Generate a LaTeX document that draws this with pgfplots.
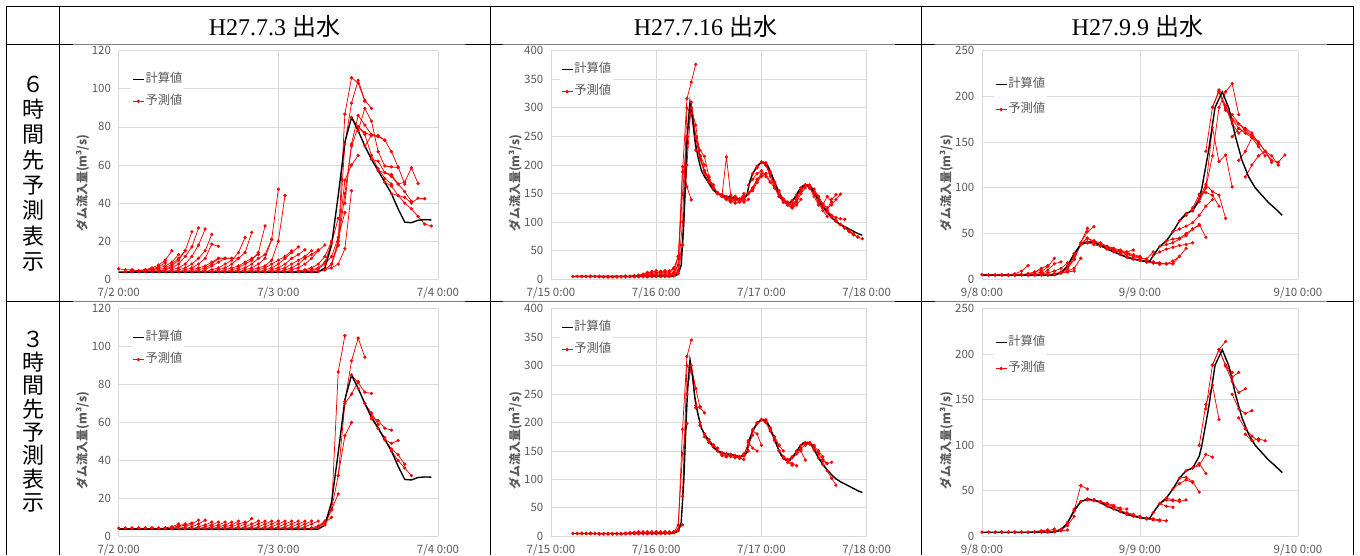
\documentclass[border=0pt]{standalone}
\usepackage{fontspec}
\setmainfont{Liberation Serif}
\newfontfamily\jp{Noto Sans CJK JP}
\usepackage{pgfplots}
\pgfplotsset{compat=1.18}
\definecolor{gridc}{HTML}{D9D9D9}
\definecolor{tickc}{HTML}{595959}
\definecolor{fred}{HTML}{FF0000}
\definecolor{tline}{HTML}{7F7F7F}
\pgfplotsset{
 fcs/.style={color=fred, line width=0.75pt, mark=*, mark size=1.25pt},
 calc/.style={color=black, line width=1.4pt, mark=none},
 panel/.style={
  scale only axis, anchor=south west,
  axis line style={draw=none},
  major tick length=0pt,
  tick style={draw=none},
  xmajorgrids, ymajorgrids,
  grid style={draw=gridc, line width=0.75pt},
  ymin=0, xmin=0,
  tick label style={font=\jp\fontsize{11.5}{13}\selectfont, text=tickc},
  /pgf/number format/assume math mode=true,
  yticklabel style={anchor=east, inner sep=0pt, xshift=-7.5pt},
  xticklabel style={anchor=north, inner sep=0pt, yshift=-7.5pt},
  legend cell align=left,
  legend style={draw=none, fill=white, anchor=north west, inner sep=1pt,
    font=\jp\fontsize{12.3}{14}\selectfont, text=tickc,
    nodes={inner sep=1pt, text height=9pt, text depth=2.5pt}, row sep=8.5pt},
  legend image code/.code={\draw[mark repeat=2,mark phase=2,##1] plot coordinates {(0pt,0pt) (5.5pt,0pt) (11pt,0pt)};},
  ylabel={ダム流入量(m³/s)},
  every axis y label/.style={at={(axis description cs:-0.113,0.42)}, rotate=90, anchor=center, font=\jp\bfseries\fontsize{12}{14}\selectfont, text=tickc},
 },
 pA/.style={xmax=48, xtick={0,24,48}, xticklabels={7/2 0:00,7/3 0:00,7/4 0:00}, ymax=120, ytick={0,20,...,120}},
 pB/.style={xmax=72, xtick={0,24,48,72}, xticklabels={7/15 0:00,7/16 0:00,7/17 0:00,7/18 0:00}, ymax=400, ytick={0,50,...,400}},
 pC/.style={xmax=48, xtick={0,24,48}, xticklabels={9/8 0:00,9/9 0:00,9/10 0:00}, ymax=250, ytick={0,50,...,250}},
}
\newcommand\fc[2]{\addplot[fcs,forget plot] table[x expr=\coordindex+#1,y index=0,header=false,row sep=\\]{#2};}
\newcommand\calcA{\addplot[calc] coordinates {(0,3.8)(30,3.8)(31,6)(32,18)(33,44)(34,72)(35,85)(36,78)(37,70)(38,63)(39,57)(40,51)(41,45)(42,37)(43,30)(44,29.7)(45,31)(46,31.3)(47,31.2)};}
\newcommand\calcB{\addplot[calc] coordinates {(5.5,5)(28,5)(29,9)(29.7,25)(30.3,100)(30.8,200)(31.2,265)(31.7,310)(32.3,280)(32.8,245)(33.5,215)(34.3,190)(35,180)(36,168)(37,156)(38,150)(39,147)(40,145)(41,144)(42,142)(43,140)(44,141)(44.7,148)(45.3,170)(46,185)(47,198)(48,205)(49,204)(49.7,195)(50.5,180)(51.5,160)(52.5,142)(53.5,134)(54.5,134)(55.5,142)(56.5,155)(57.5,164)(58.5,165)(59.3,162)(60,152)(61,138)(62,126)(63,117)(64,108)(65,101)(66,96)(67,92)(68,88)(69,84)(70,80)(71,77)};}
\newcommand\calcC{\addplot[calc] coordinates {(0,4.4)(11,4.4)(12,7)(13,15)(14,28)(15,38)(16,41)(17,40)(18,37)(19,33)(20,30)(21,27)(22,24)(23,22)(24,20.5)(25,19.5)(25.5,20)(26,26)(27,36)(28,42)(29,52)(30,64)(31,72)(32,75)(33,88)(33.4,100)(34.4,140)(35.4,188)(36.5,205)(37.5,187)(38.5,156)(39.5,130)(40.5,112)(41.5,100)(42.5,92)(43.5,84)(44.6,77)(45.6,70)};}
\begin{document}
\begin{tikzpicture}
\useasboundingbox (0pt,0pt) rectangle (1360pt,555pt);
\clip (0pt,0pt) rectangle (1360pt,555pt);
% table
\draw[line width=1.4pt] (6.7pt,0pt) -- (6.7pt,548.3pt) -- (1353.3pt,548.3pt) -- (1353.3pt,0pt);
\draw[line width=1.6pt] (59.3pt,0pt) -- (59.3pt,548.3pt);
\draw[line width=1.4pt] (490.7pt,0pt) -- (490.7pt,548.3pt);
\draw[line width=1.2pt] (921.7pt,0pt) -- (921.7pt,548.3pt);
\foreach \yy in {510.7,253.3}{
 \draw[line width=1.4pt] (6.7pt,\yy pt) -- (73pt,\yy pt);
 \draw[line width=1.4pt] (465pt,\yy pt) -- (503pt,\yy pt);
 \draw[line width=1.4pt] (895pt,\yy pt) -- (935pt,\yy pt);
 \draw[line width=1.4pt] (1327pt,\yy pt) -- (1353.3pt,\yy pt);
 \draw[line width=0.7pt, tline] (73pt,\yy pt) -- (465pt,\yy pt);
 \draw[line width=0.7pt, tline] (503pt,\yy pt) -- (895pt,\yy pt);
 \draw[line width=0.7pt, tline] (935pt,\yy pt) -- (1327pt,\yy pt);
}
\node[font=\fontsize{24}{24}\selectfont, inner sep=0pt] at (274.5pt,529pt) {H27.7.3 {\jp 出水}};
\node[font=\fontsize{24}{24}\selectfont, inner sep=0pt] at (705.5pt,529pt) {H27.7.16 {\jp 出水}};
\node[font=\fontsize{24}{24}\selectfont, inner sep=0pt] at (1137.5pt,529pt) {H27.9.9 {\jp 出水}};
\node[font=\jp\fontsize{22}{25.3}\selectfont, align=center, inner sep=0pt] at (33pt,381.5pt) {６\\時\\間\\先\\予\\測\\表\\示};
\node[font=\jp\fontsize{22}{23.3}\selectfont, align=center, inner sep=0pt] at (33pt,133.5pt) {３\\時\\間\\先\\予\\測\\表\\示};

% ---------- P1 ----------
\begin{axis}[panel, pA, at={(118.7pt,275.7pt)}, width=319.3pt, height=228.6pt,
  legend style={at={(axis description cs:0.0385,0.91)}}]
\fc{0}{5.5\\5\\5\\4.5\\5\\5\\5.5\\}
\fc{1}{4\\4.5\\4.5\\5\\5.5\\6.5\\8.7\\}
\fc{2}{4\\4.5\\5\\6\\7.5\\10\\15\\}
\fc{3}{4\\4.5\\5\\6\\7\\9\\13\\}
\fc{4}{4\\4.5\\5\\6\\8\\11\\15\\}
\fc{5}{4\\4.5\\5\\7\\10\\15\\25\\}
\fc{6}{4\\5\\6\\8\\12\\17\\27\\}
\fc{7}{4\\5\\6\\8\\12\\18\\26.4\\}
\fc{8}{4\\5\\6\\8\\11\\15\\23.6\\}
\fc{9}{4\\5\\6\\8\\11\\18.5\\17.3\\}
\fc{10}{4\\5\\6\\7\\9\\11\\11\\}
\fc{11}{4\\5\\6\\8\\11\\11\\11\\}
\fc{12}{4\\5\\7\\9\\11\\11\\11\\}
\fc{13}{4\\5\\6\\8\\10\\14\\22\\}
\fc{14}{4\\5\\6\\8\\11\\14\\24.6\\}
\fc{15}{4\\5\\6\\7\\9\\11\\13\\}
\fc{16}{4\\5\\6\\8\\10\\14\\28\\}
\fc{17}{4\\5\\6\\8\\11\\13\\21\\}
\fc{18}{4\\5\\6\\8\\11\\21\\47.3\\}
\fc{19}{4\\5\\6\\7\\10\\20\\44\\}
\fc{20}{4\\5\\6\\8\\10\\12\\15\\}
\fc{21}{4\\5\\6\\8\\11\\14\\17\\}
\fc{22}{4\\5\\6\\8\\11\\13\\15.5\\}
\fc{23}{4\\5\\6\\8\\10\\12\\15\\}
\fc{24}{4\\5\\6\\8\\11\\13\\15.5\\}
\fc{25}{4\\5\\6\\8\\11\\15\\18\\}
\fc{26}{4\\4.5\\5\\6\\8\\12\\20\\}
\fc{27}{4\\4.5\\5\\6\\9\\19\\32\\}
\fc{28}{4\\4.5\\5.5\\8\\12\\22\\35\\}
\fc{29}{4\\4.5\\5\\6\\8\\16\\46.5\\}
\fc{30}{4\\5\\8\\20\\52\\60\\65\\}
\fc{31}{5\\8\\20\\86.7\\105.8\\103\\93.5\\}
\fc{32}{8\\18\\71\\92.5\\104.5\\94\\89.7\\}
\fc{33}{18\\45\\70\\80\\77\\75.5\\75\\}
\fc{34}{40\\71\\86\\81\\76\\75.5\\73\\}
\fc{35}{85\\80\\76\\65\\58\\53\\50\\}
\fc{36}{78\\89.7\\83\\67\\59.5\\59\\58.6\\}
\fc{37}{70\\75.5\\75\\73\\67\\59\\50\\}
\fc{38}{63\\62\\56\\54\\50\\46\\41\\}
\fc{39}{57\\56\\55\\50\\51\\58.5\\50.3\\}
\fc{40}{51\\49\\44\\43\\40\\42.6\\42.3\\}
\fc{41}{45\\44\\40\\37\\33\\29\\28\\}
\calcA
\addlegendentry{計算値}
\addlegendimage{fcs}
\addlegendentry{予測値}
\end{axis}

% ---------- P2 ----------
\begin{axis}[panel, pB, at={(551pt,275.7pt)}, width=315.7pt, height=228.6pt,
  legend style={at={(axis description cs:0.0276,0.952)}}]
\fc{5}{5\\5\\5\\5\\5\\5\\5\\}
\fc{7}{5\\5\\5\\5\\5\\4.5\\4.5\\}
\fc{9}{5\\5\\4.5\\4.5\\4.5\\4.5\\4.5\\}
\fc{11}{4.5\\4.5\\4.5\\4.5\\4.5\\5\\5\\}
\fc{13}{4.5\\4.5\\4.5\\5\\5\\5\\6\\}
\fc{15}{4.5\\4.5\\5\\5\\6\\7\\8\\}
\fc{16}{4.5\\5\\5\\6\\7\\9\\12\\}
\fc{17}{4.5\\5\\5\\6\\8\\10\\14\\}
\fc{18}{4.5\\5\\6\\8\\10\\12\\15\\}
\fc{19}{4.5\\5\\6\\8\\10\\12\\14\\}
\fc{20}{4.5\\5\\6\\8\\10\\13\\15\\}
\fc{21}{4.5\\5\\6\\8\\11\\13\\15\\}
\fc{22}{4.5\\5\\6\\8\\10\\14\\20\\}
\fc{23}{5\\5\\6\\8\\11\\19\\40\\}
\fc{24}{5\\5\\6\\8\\12\\25\\60\\}
\fc{25}{5\\5\\7\\12\\40\\150\\250\\}
\fc{26}{5\\6\\9\\25\\197\\162\\139\\}
\fc{27}{5\\8\\15\\188\\316\\345\\376\\}
\fc{28}{6\\15\\100\\300\\290\\250\\215\\}
\fc{29}{10\\60\\250\\300\\226\\217\\200\\}
\fc{30}{60\\200\\310\\250\\226\\215\\180\\}
\fc{31}{250\\300\\250\\210\\190\\175\\165\\}
\fc{32}{300\\270\\215\\185\\170\\160\\150\\}
\fc{33}{250\\215\\190\\175\\160\\150\\145\\}
\fc{34}{210\\190\\175\\160\\150\\148\\140\\}
\fc{35}{190\\178\\160\\150\\147\\214\\147\\}
\fc{36}{172\\165\\150\\145\\140\\135\\140\\}
\fc{37}{160\\150\\145\\140\\138\\133\\136\\}
\fc{38}{152\\148\\140\\140\\145\\140\\150\\}
\fc{39}{147\\143\\140\\145\\140\\135\\140\\}
\fc{40}{145\\142\\138\\140\\145\\150\\160\\}
\fc{41}{144\\140\\135\\140\\150\\155\\170\\}
\fc{42}{142\\140\\140\\150\\160\\175\\185\\}
\fc{43}{140\\143\\150\\160\\170\\180\\185\\}
\fc{44}{141\\150\\160\\175\\180\\185\\170\\}
\fc{45}{165\\175\\185\\190\\180\\170\\160\\}
\fc{46}{185\\195\\205\\200\\185\\165\\150\\}
\fc{47}{198\\205\\200\\180\\160\\145\\135\\}
\fc{48}{205\\200\\185\\165\\145\\135\\130\\}
\fc{49}{204\\185\\170\\150\\140\\135\\128\\}
\fc{50}{188\\170\\155\\140\\130\\125\\135\\}
\fc{51}{168\\150\\140\\130\\125\\130\\140\\}
\fc{52}{150\\140\\135\\130\\135\\150\\160\\}
\fc{53}{137\\133\\130\\140\\155\\165\\165\\}
\fc{54}{134\\135\\145\\155\\165\\160\\150\\}
\fc{55}{138\\145\\160\\165\\160\\145\\130\\}
\fc{56}{148\\155\\165\\160\\150\\140\\125\\}
\fc{57}{160\\165\\160\\150\\135\\120\\110\\}
\fc{58}{165\\160\\150\\140\\130\\145\\135\\}
\fc{59}{163\\158\\145\\130\\120\\140\\148\\}
\fc{60}{152\\145\\132\\125\\130\\140\\149\\}
\fc{61}{138\\130\\120\\112\\108\\106\\105\\}
\fc{62}{126\\118\\110\\102\\96\\90\\86\\}
\fc{63}{117\\110\\102\\96\\90\\84\\80\\}
\fc{64}{108\\102\\96\\90\\84\\78\\74\\}
\fc{65}{101\\96\\90\\84\\78\\74\\71\\}
\calcB
\addlegendentry{計算値}
\addlegendimage{fcs}
\addlegendentry{予測値}
\end{axis}

% ---------- P3 ----------
\begin{axis}[panel, pC, at={(982pt,275.7pt)}, width=316pt, height=228.6pt,
  legend style={at={(axis description cs:0.037,0.887)}, row sep=11.5pt}]
\fc{0}{5\\5\\5\\5\\5\\5\\5\\}
\fc{1}{4.5\\4.5\\4.5\\5\\6\\9\\15\\}
\fc{2}{4.5\\4.5\\4.5\\5\\5\\5.5\\6\\}
\fc{3}{4.5\\4.5\\5\\5\\6\\8\\10\\}
\fc{4}{4.5\\4.5\\5\\6\\8\\12\\15\\}
\fc{5}{4.5\\5\\5\\6\\8\\14\\23\\}
\fc{6}{4.5\\5\\5\\6\\10\\17\\19\\}
\fc{7}{4.5\\5\\6\\7\\9\\12\\18\\}
\fc{8}{4.5\\5\\5\\6\\7\\8\\9\\}
\fc{9}{4.5\\5\\6\\7\\9\\12\\23\\}
\fc{10}{4.5\\6\\8\\12\\22\\40\\55.8\\}
\fc{11}{5\\7\\12\\25\\40\\52\\57.6\\}
\fc{12}{7\\12\\22\\38\\45\\40\\38\\}
\fc{13}{15\\28\\38\\45\\42\\38\\35\\}
\fc{14}{28\\38\\40\\42\\40\\36\\33\\}
\fc{15}{38\\40\\38\\36\\34\\32\\30\\}
\fc{16}{41\\40\\38\\35\\32\\30\\28\\}
\fc{17}{40\\38\\36\\34\\32\\30\\32\\}
\fc{18}{37\\35\\33\\31\\29\\27\\25\\}
\fc{19}{33\\31\\30\\28\\26\\24\\22\\}
\fc{20}{30\\28\\27\\25\\23\\22\\30\\}
\fc{21}{27\\25\\23\\21\\19\\18\\17\\}
\fc{22}{24\\22\\21\\19\\18\\17\\17\\}
\fc{23}{22\\21\\20\\19\\18\\17\\17\\}
\fc{24}{20.5\\19\\18\\17\\17\\17\\25\\}
\fc{25}{19.5\\18\\17\\17\\20\\25\\34\\}
\fc{26}{26\\30\\33\\35\\37\\38\\40\\}
\fc{27}{36\\38\\40\\44\\48\\55\\59\\}
\fc{28}{42\\44\\45\\50\\55\\60\\46\\}
\fc{29}{52\\55\\58\\62\\70\\80\\87\\}
\fc{30}{64\\70\\78\\93\\95\\92\\80\\}
\fc{31}{72\\75\\88\\104\\96\\92\\66.7\\}
\fc{32}{75\\85\\100\\166\\128.6\\136\\101\\}
\fc{33}{88\\100\\135\\188\\205\\214\\180\\}
\fc{34}{140\\188\\205\\190\\175\\170\\163\\}
\fc{35}{188\\207\\188\\170\\160\\165\\155\\}
\fc{36}{205\\185\\180\\170\\165\\160\\148\\}
\fc{37}{187\\175\\165\\160\\155\\145\\135\\}
\fc{38}{156\\165\\160\\158\\150\\140\\128\\}
\fc{39}{130\\140\\155\\150\\140\\135\\125\\}
\fc{40}{112\\125\\135\\140\\130\\128\\136\\}
\calcC
\addlegendentry{計算値}
\addlegendimage{fcs}
\addlegendentry{予測値}
\end{axis}

% ---------- P4 ----------
\begin{axis}[panel, pA, at={(118.7pt,18.7pt)}, width=319.3pt, height=227.6pt,
  legend style={at={(axis description cs:0.0385,0.908)}}]
\fc{0}{4.3\\4.3\\4.3\\4.3\\}
\fc{1}{4.3\\4.3\\4.3\\4.3\\}
\fc{2}{4.3\\4.3\\4.3\\4.3\\}
\fc{3}{4.3\\4.3\\4.3\\4.3\\}
\fc{4}{4.3\\4.3\\4.3\\4.3\\}
\fc{5}{4.3\\4.3\\4.3\\4.3\\}
\fc{6}{4\\4.5\\5\\6.5\\}
\fc{7}{4\\4.5\\5.5\\6.5\\}
\fc{8}{4\\5\\6\\7\\}
\fc{9}{4\\5\\6.5\\8.5\\}
\fc{10}{4\\5\\6.5\\8.5\\}
\fc{11}{4\\5\\6\\7.5\\}
\fc{12}{4\\5\\6\\7.5\\}
\fc{13}{4\\5\\6\\7.5\\}
\fc{14}{4\\5\\6\\7.5\\}
\fc{15}{4\\5\\6\\8\\}
\fc{16}{4\\5\\6.5\\7.5\\}
\fc{17}{4\\5\\6.5\\9.3\\}
\fc{18}{4\\5\\6.5\\8\\}
\fc{19}{4\\5\\6.5\\8\\}
\fc{20}{4\\5\\6.5\\8\\}
\fc{21}{4\\5\\6.5\\8\\}
\fc{22}{4\\5\\6.5\\8\\}
\fc{23}{4\\5\\6.5\\8\\}
\fc{24}{4\\5\\6.5\\8\\}
\fc{25}{4\\5\\6.5\\8\\}
\fc{26}{4\\5\\6.5\\8\\}
\fc{27}{4\\5\\6.5\\8\\}
\fc{28}{4\\4.5\\5.5\\8\\}
\fc{29}{4\\5\\7\\10\\}
\fc{30}{4.5\\8\\14\\22.4\\}
\fc{31}{6\\14\\86.7\\105.8\\}
\fc{32}{14.5\\32\\53\\60\\}
\fc{33}{32\\70\\75\\81.6\\}
\fc{34}{71\\92.5\\104.5\\94.4\\}
\fc{35}{85\\81\\76\\75.3\\}
\fc{36}{78\\70\\65\\59\\}
\fc{37}{70\\62\\57\\52\\}
\fc{38}{63\\61\\57\\56\\}
\fc{39}{57\\51\\49\\50.5\\}
\fc{40}{51\\46\\43\\38\\}
\fc{41}{45\\40\\36\\32\\}
\calcA
\addlegendentry{計算値}
\addlegendimage{fcs}
\addlegendentry{予測値}
\end{axis}

% ---------- P5 ----------
\begin{axis}[panel, pB, at={(551pt,18.7pt)}, width=315.7pt, height=227.6pt,
  legend style={at={(axis description cs:0.0276,0.952)}}]
\fc{5}{5\\5\\5\\5\\}
\fc{6}{5\\5\\5\\5\\}
\fc{7}{5\\5\\5\\5\\}
\fc{8}{5\\5\\5\\4.5\\}
\fc{9}{5\\5\\4.5\\4.5\\}
\fc{10}{4.5\\4.5\\4.5\\4.5\\}
\fc{11}{4.5\\4.5\\4.5\\4.5\\}
\fc{12}{4.5\\4.5\\4.5\\4.5\\}
\fc{13}{4.5\\4.5\\4.5\\4.5\\}
\fc{14}{4.5\\4.5\\4.5\\5\\}
\fc{15}{4.5\\4.5\\5\\6\\}
\fc{16}{4.5\\5\\6\\7\\}
\fc{17}{4.5\\5\\6\\8\\}
\fc{18}{4.5\\5\\6\\8\\}
\fc{19}{4.5\\5\\6\\8\\}
\fc{20}{4.5\\5\\6\\8\\}
\fc{21}{4.5\\5\\6\\8\\}
\fc{22}{4.5\\5\\6\\8\\}
\fc{23}{4.5\\5\\6\\8\\}
\fc{24}{4.5\\5\\6\\8\\}
\fc{25}{5\\5\\6\\8\\}
\fc{26}{5\\6\\8\\10\\}
\fc{27}{5\\7\\12\\20\\}
\fc{28}{7\\20\\145\\198\\}
\fc{29}{10\\188\\316\\345\\}
\fc{30}{70\\300\\290\\260\\}
\fc{31}{250\\300\\226\\228\\}
\fc{32}{300\\260\\226\\217\\}
\fc{33}{230\\200\\175\\165\\}
\fc{34}{195\\180\\165\\160\\}
\fc{35}{180\\170\\160\\155\\}
\fc{36}{170\\160\\150\\145\\}
\fc{37}{160\\150\\142\\140\\}
\fc{38}{150\\145\\140\\142\\}
\fc{39}{147\\143\\140\\138\\}
\fc{40}{145\\142\\140\\137\\}
\fc{41}{144\\140\\138\\135\\}
\fc{42}{142\\140\\142\\150\\}
\fc{43}{140\\145\\160\\178\\}
\fc{44}{141\\165\\155\\150\\}
\fc{45}{168\\185\\180\\160\\}
\fc{46}{188\\200\\205\\205\\}
\fc{47}{198\\205\\200\\190\\}
\fc{48}{205\\200\\185\\170\\}
\fc{49}{204\\190\\170\\160\\}
\fc{50}{188\\175\\160\\150\\}
\fc{51}{168\\150\\140\\135\\}
\fc{52}{150\\140\\130\\125\\}
\fc{53}{137\\133\\128\\124\\}
\fc{54}{134\\140\\150\\152\\}
\fc{55}{138\\145\\150\\134\\}
\fc{56}{148\\155\\160\\163\\}
\fc{57}{160\\163\\165\\160\\}
\fc{58}{165\\162\\155\\145\\}
\fc{59}{163\\158\\150\\140\\}
\fc{60}{152\\145\\135\\128\\}
\fc{61}{138\\132\\128\\130\\}
\fc{62}{126\\115\\102\\90\\}
\calcB
\addlegendentry{計算値}
\addlegendimage{fcs}
\addlegendentry{予測値}
\end{axis}

% ---------- P6 ----------
\begin{axis}[panel, pC, at={(982pt,18.7pt)}, width=316pt, height=227.6pt,
  legend style={at={(axis description cs:0.037,0.886)}, row sep=12.5pt}]
\fc{0}{4.5\\4.5\\4.5\\4.5\\}
\fc{1}{4.5\\4.5\\4.5\\4.5\\}
\fc{2}{4.5\\4.5\\4.5\\4.5\\}
\fc{3}{4.5\\4.5\\4.5\\4.5\\}
\fc{4}{4.5\\4.5\\4.5\\4.5\\}
\fc{5}{4.5\\4.5\\4.5\\4.5\\}
\fc{6}{4.5\\4.5\\5\\6\\}
\fc{7}{4.5\\5\\6\\7\\}
\fc{8}{4.5\\5\\6\\8\\}
\fc{9}{4.5\\5\\6\\8\\}
\fc{10}{4.5\\5\\6\\7\\}
\fc{11}{5\\7\\12\\22\\}
\fc{12}{7\\15\\30\\38\\}
\fc{13}{15\\28\\55.8\\52\\}
\fc{14}{28\\38\\41\\40\\}
\fc{15}{38\\40\\39\\38\\}
\fc{16}{41\\40\\38\\36\\}
\fc{17}{40\\38\\36\\34\\}
\fc{18}{37\\35\\33\\31\\}
\fc{19}{33\\32\\30\\30\\}
\fc{20}{30\\28\\26\\24\\}
\fc{21}{27\\25\\23\\22\\}
\fc{22}{24\\22\\21\\20\\}
\fc{23}{22\\21\\20\\19\\}
\fc{24}{20.5\\19\\18\\17\\}
\fc{25}{19.5\\19\\18\\17\\}
\fc{26}{26\\36\\33\\32\\}
\fc{27}{36\\40\\39\\40\\}
\fc{28}{42\\40\\38\\40\\}
\fc{29}{52\\58\\62\\59\\}
\fc{30}{64\\65\\60\\48.5\\}
\fc{31}{72\\75\\80\\69\\}
\fc{32}{75\\78\\90\\87\\}
\fc{33}{100\\145\\166\\128.5\\}
\fc{34}{140\\188\\205\\214\\}
\fc{35}{188\\205\\188\\180\\}
\fc{36}{205\\188\\175\\180\\}
\fc{37}{187\\170\\158\\162\\}
\fc{38}{156\\140\\135\\138\\}
\fc{39}{130\\118\\110\\105\\}
\fc{40}{112\\105\\107\\105\\}
\calcC
\addlegendentry{計算値}
\addlegendimage{fcs}
\addlegendentry{予測値}
\end{axis}
\end{tikzpicture}
\end{document}
